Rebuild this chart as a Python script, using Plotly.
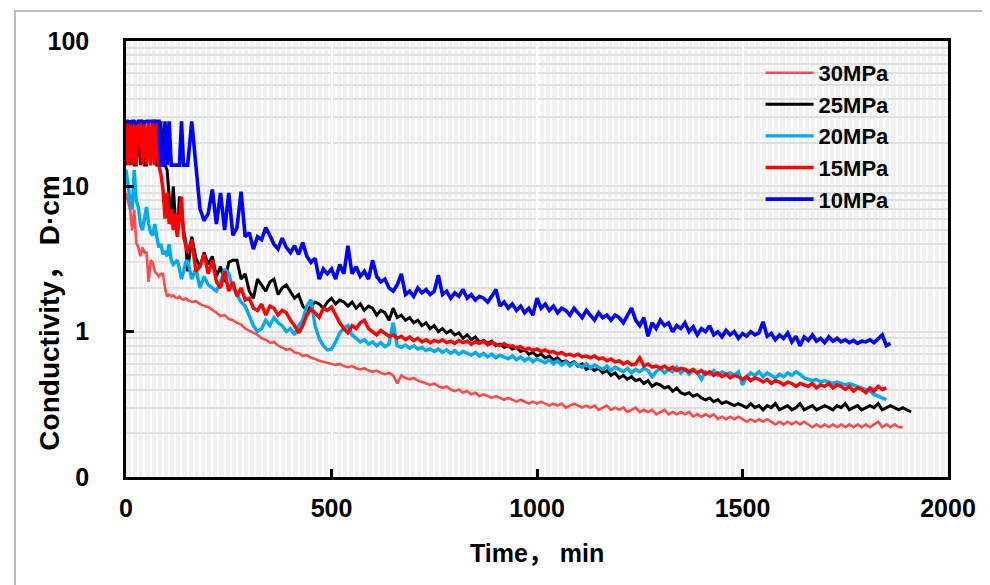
import plotly.graph_objects as go

# ---------------- data ----------------
SERIES_NAMES = ["30MPa", "25MPa", "20MPa", "15MPa", "10MPa"]
SERIES_COLORS = ["#FF4B4B", "#000000", "#00AAF0", "#FF0000", "#0000FF"]
SERIES_WIDTHS = [2.6, 3.0, 3.4, 3.4, 3.6]

# sampling: every 5 min from 0 to 145, then every 10 min from 150 on
EARLY_STEP = 5
EARLY_COUNT = 30
LATE_START = 150
LATE_STEP = 10

cond_30 = [
    9, 8, 6.9, 5.0, 6.9, 4.1, 3.8, 3.3, 3.8, 3.5,
    3.5, 2.2, 3.1, 3.0, 2.6, 2.5, 2.4, 2.5, 2.5, 2.0,
    1.74, 1.8, 1.75, 1.78, 1.72, 1.7, 1.74, 1.68, 1.66, 1.7,
    1.65, 1.6, 1.62, 1.55, 1.5, 1.48, 1.42, 1.35, 1.28, 1.3,
    1.22, 1.2, 1.15, 1.12, 1.05, 1.02, 0.98, 0.95, 0.9, 0.88,
    0.84, 0.85, 0.8, 0.78, 0.75, 0.76, 0.72, 0.71, 0.68, 0.69,
    0.66, 0.65, 0.63, 0.62, 0.61, 0.6, 0.59, 0.6, 0.58, 0.57,
    0.58, 0.56, 0.55, 0.56, 0.54, 0.53, 0.54, 0.52, 0.51, 0.52,
    0.5, 0.44, 0.5, 0.48, 0.47, 0.48, 0.46, 0.45, 0.44, 0.43,
    0.44, 0.42, 0.41, 0.42, 0.4, 0.39, 0.4, 0.38, 0.39, 0.37,
    0.38, 0.36, 0.37, 0.36, 0.35, 0.36, 0.35, 0.34, 0.35, 0.34,
    0.33, 0.34, 0.33, 0.32, 0.33, 0.32, 0.33, 0.32, 0.31, 0.32,
    0.31, 0.32, 0.3, 0.31, 0.32, 0.31, 0.3, 0.31, 0.3, 0.31,
    0.29, 0.3, 0.31, 0.29, 0.3, 0.29, 0.3, 0.28, 0.29, 0.3,
    0.28, 0.29, 0.28, 0.29, 0.27, 0.28, 0.29, 0.27, 0.28, 0.27,
    0.28, 0.27, 0.28, 0.26, 0.27, 0.26, 0.27, 0.26, 0.27, 0.25,
    0.26, 0.25, 0.26, 0.25, 0.26, 0.25, 0.24, 0.25, 0.24, 0.25,
    0.24, 0.25, 0.24, 0.23, 0.24, 0.23, 0.24, 0.23, 0.24, 0.23,
    0.24, 0.23, 0.22, 0.23, 0.22, 0.23, 0.22, 0.23, 0.22, 0.23,
    0.22, 0.23, 0.22, 0.23, 0.22, 0.23, 0.22, 0.23, 0.24, 0.22,
    0.23, 0.22, 0.23, 0.22, 0.22,
]

cond_25 = [
    14, 28, 14, 28, 14, 14, 28, 14, 28, 14,
    14, 28, 14, 28, 28, 14, 14, 28, 14, 14,
    13, 8, 5.5, 10, 6, 4.5, 8.5, 7, 5, 4.2,
    2.6, 4.5, 3.2, 2.8, 3.5, 2.9, 3.3, 2.4, 2.8, 2.2,
    3.0, 3.1, 3.1, 2.3, 2.5, 1.9, 1.7, 2.3, 2.1, 1.9,
    2.2, 2.3, 1.8, 2.0, 2.1, 1.9, 1.7, 1.8, 1.5, 1.4,
    1.5, 1.6, 1.55, 1.45, 1.6, 1.7, 1.55, 1.65, 1.6, 1.5,
    1.6, 1.45, 1.55, 1.4, 1.5, 1.45, 1.3, 1.4, 1.35, 1.2,
    1.45, 1.25, 1.3, 1.2, 1.25, 1.15, 1.2, 1.1, 1.15, 1.05,
    1.1, 1.0, 1.05, 0.98, 1.02, 0.95, 0.98, 0.9, 0.95, 0.88,
    0.92, 0.85, 0.87, 0.83, 0.86, 0.8, 0.82, 0.78, 0.8, 0.76,
    0.78, 0.73, 0.75, 0.7, 0.72, 0.68, 0.7, 0.66, 0.68, 0.64,
    0.66, 0.62, 0.63, 0.6, 0.62, 0.58, 0.6, 0.55, 0.57, 0.54,
    0.56, 0.52, 0.54, 0.5, 0.52, 0.48, 0.5, 0.47, 0.49, 0.46,
    0.47, 0.44, 0.46, 0.42, 0.44, 0.43, 0.41, 0.42, 0.39, 0.41,
    0.38, 0.37, 0.38, 0.36, 0.37, 0.35, 0.34, 0.35, 0.33, 0.34,
    0.32, 0.33, 0.32, 0.31, 0.32, 0.31, 0.3, 0.32, 0.3, 0.31,
    0.29, 0.31, 0.3, 0.32, 0.29, 0.3, 0.31, 0.29, 0.3, 0.32,
    0.29, 0.3, 0.31, 0.29, 0.3, 0.31, 0.3, 0.29, 0.31, 0.3,
    0.32, 0.29, 0.3, 0.31, 0.29, 0.3, 0.31, 0.3, 0.32, 0.29,
    0.3, 0.31, 0.3, 0.29, 0.3, 0.29, 0.28,
]

cond_20 = [
    13, 10, 8, 6.9, 13, 8, 7.2, 5.5, 5.0, 6,
    7.2, 5.5, 4.8, 4.6, 5.5, 4.5, 3.8, 4.0, 3.4, 3.6,
    3.3, 4.0, 3.1, 2.9, 3.0, 3.1, 2.7, 2.3, 2.6, 3.0,
    3.1, 2.3, 2.7, 2.0, 2.4, 2.1, 2.0, 1.9, 2.2, 2.7,
    2.5, 2.0, 1.8, 1.6, 1.5, 1.3, 1.1, 1.0, 1.05, 1.2,
    1.1, 1.25, 1.15, 1.1, 1.0, 1.05, 0.95, 1.1, 1.2, 1.5,
    1.66, 1.1, 0.9, 0.8, 0.75, 0.76, 0.85, 0.98, 1.05, 1.1,
    0.95, 0.9, 0.85, 0.88, 0.82, 0.85, 0.8, 0.84, 0.79, 0.82,
    1.15, 0.8, 0.78, 0.81, 0.77, 0.8, 0.76, 0.78, 0.74, 0.76,
    0.73, 0.76, 0.72, 0.75, 0.71, 0.74, 0.7, 0.73, 0.71, 0.69,
    0.72, 0.68, 0.71, 0.67, 0.7, 0.66, 0.69, 0.67, 0.65, 0.68,
    0.64, 0.67, 0.63, 0.66, 0.62, 0.65, 0.63, 0.61, 0.64, 0.6,
    0.63, 0.59, 0.62, 0.58, 0.61, 0.59, 0.57, 0.6, 0.56, 0.59,
    0.57, 0.55, 0.58, 0.54, 0.57, 0.55, 0.53, 0.56, 0.52, 0.55,
    0.53, 0.56, 0.54, 0.49, 0.53, 0.56, 0.52, 0.55, 0.53, 0.57,
    0.52, 0.55, 0.51, 0.54, 0.52, 0.47, 0.53, 0.51, 0.54, 0.5,
    0.53, 0.51, 0.52, 0.5, 0.53, 0.43, 0.49, 0.52, 0.5, 0.53,
    0.49, 0.52, 0.5, 0.48, 0.51, 0.49, 0.52, 0.5, 0.53, 0.51,
    0.48, 0.47, 0.46, 0.47, 0.45, 0.46, 0.45, 0.44, 0.45, 0.44,
    0.43, 0.44, 0.43, 0.42, 0.41, 0.4, 0.39, 0.37, 0.36, 0.35,
    0.34,
]

cond_15 = [
    28, 14, 28, 14, 28, 14, 28, 28, 14, 28,
    14, 28, 14, 28, 14, 28, 14, 12, 9.5, 6,
    9, 5.5, 7, 5, 6.5, 4.5, 6, 8.5, 4.5, 4.0,
    3.5, 4.3, 2.6, 2.8, 3.4, 2.5, 3.1, 2.2, 2.0, 2.6,
    1.9, 2.2, 1.75, 2.0, 1.65, 1.7, 1.45, 1.4, 1.55, 1.3,
    1.5, 1.45, 1.3, 1.4, 1.35, 1.2, 1.1, 0.98, 1.1, 1.3,
    1.42, 1.35, 1.25, 1.45, 1.4, 1.48, 1.3, 1.15, 1.05, 0.98,
    1.1, 1.05, 1.15, 1.2, 1.05, 1.0, 0.95, 1.02, 0.97, 0.93,
    0.95, 0.9, 0.93, 0.88, 0.92, 0.87, 0.9, 0.85, 0.88, 0.84,
    0.87, 0.85, 0.88, 0.84, 0.86, 0.83, 0.87, 0.84, 0.86, 0.82,
    0.85, 0.83, 0.86, 0.81, 0.84, 0.82, 0.8, 0.83, 0.79, 0.8,
    0.77, 0.79, 0.75, 0.77, 0.74, 0.76, 0.73, 0.75, 0.72, 0.73,
    0.7, 0.72, 0.69, 0.7, 0.68, 0.7, 0.67, 0.68, 0.66, 0.68,
    0.65, 0.66, 0.63, 0.65, 0.62, 0.63, 0.6, 0.62, 0.59, 0.6,
    0.66, 0.58, 0.6, 0.57, 0.58, 0.56, 0.58, 0.55, 0.57, 0.54,
    0.56, 0.55, 0.53, 0.55, 0.52, 0.54, 0.51, 0.53, 0.5, 0.52,
    0.49, 0.51, 0.48, 0.5, 0.49, 0.47, 0.49, 0.46, 0.48, 0.47,
    0.45, 0.47, 0.44, 0.46, 0.45, 0.43, 0.45, 0.44, 0.42, 0.44,
    0.43, 0.42, 0.44, 0.41, 0.43, 0.42, 0.44, 0.41, 0.43, 0.42,
    0.4, 0.42, 0.39, 0.41, 0.4, 0.38, 0.41, 0.39, 0.42, 0.4,
    0.41,
]

cond_10 = [
    28, 28, 27.5, 28, 28, 27, 28, 28, 28, 27.5,
    28, 28, 28, 28, 28, 28, 28, 14, 14, 28,
    14, 28, 14, 14, 14, 14, 14, 28, 14, 14,
    14, 28, 14, 7.0, 5.8, 6.5, 9.5, 5.5, 9.0, 5.0,
    9.0, 4.6, 5.2, 9.2, 4.5, 4.8, 3.7, 4.5, 4.3, 5.2,
    4.6, 4.0, 3.7, 4.4, 3.8, 3.5, 3.9, 3.4, 4.1, 3.3,
    3.0, 3.2, 2.3, 2.7, 2.5, 2.7, 2.3, 2.9, 2.5, 3.9,
    2.5, 2.8, 2.4, 2.6, 2.3, 3.1, 2.4, 2.2, 2.3, 2.0,
    1.9, 2.1, 2.5, 1.8, 1.9, 1.75, 2.0, 1.85, 1.95, 1.8,
    1.9, 2.45, 1.8, 1.9, 1.7, 1.85, 1.75, 1.95, 1.7, 1.8,
    1.65, 1.75, 1.7, 1.6, 1.75, 1.95, 1.5, 1.6, 1.45, 1.55,
    1.4, 1.5, 1.35, 1.45, 1.3, 1.7, 1.45, 1.55, 1.4, 1.5,
    1.35, 1.45, 1.4, 1.3, 1.45, 1.35, 1.25, 1.4, 1.3, 1.2,
    1.35, 1.25, 1.3, 1.2, 1.3, 1.25, 1.15, 1.3, 1.45, 1.2,
    1.1, 1.25, 0.93, 1.15, 1.05, 1.2, 1.1, 1.15, 1.0, 1.1,
    1.05, 1.15, 1.0, 1.08, 0.95, 1.05, 1.0, 1.1, 0.95, 1.0,
    0.92, 1.02, 0.95, 1.0, 0.9, 0.97, 0.93, 1.0, 0.95, 0.98,
    1.17, 0.93, 0.97, 0.88, 0.95, 0.9, 0.98, 0.85, 0.93, 0.8,
    0.92, 0.87, 0.95, 0.86, 0.9, 0.84, 0.92, 0.86, 0.9, 0.85,
    0.88, 0.84, 0.87, 0.83, 0.86, 0.85, 0.88, 0.84, 0.9, 0.95,
    0.8, 0.83,
]

SERIES_VALUES = [cond_30, cond_25, cond_20, cond_15, cond_10]

X_TICKS = [0, 500, 1000, 1500, 2000]
Y_TICKVALS = [0.1, 1, 10, 100]
Y_TICKTEXT = ["0", "1", "10", "100"]

X_TITLE = "Time， min"
Y_TITLE = "Conductivity， D·cm"


def times_for(values):
    n = len(values)
    early = [i * EARLY_STEP for i in range(min(n, EARLY_COUNT))]
    late = [LATE_START + i * LATE_STEP for i in range(max(0, n - EARLY_COUNT))]
    return early + late


FONT = "Liberation Sans, Arial, Noto Sans CJK SC, sans-serif"

# page has an 8px body margin; plot area must land at page x 126..948, y 41..477
PL, PR, PT, PB = 118, 50, 33, 116
PW = 990 - PL - PR   # 822
PH = 585 - PT - PB   # 436

fig = go.Figure()
for name, col, w, vals in zip(SERIES_NAMES, SERIES_COLORS, SERIES_WIDTHS, SERIES_VALUES):
    fig.add_trace(go.Scatter(
        x=times_for(vals), y=vals, mode="lines", name=name,
        line=dict(color=col, width=w, shape="linear"),
    ))

fig.update_layout(
    width=990, height=585,
    margin=dict(l=PL, r=PR, t=PT, b=PB, autoexpand=False),
    paper_bgcolor="white",
    plot_bgcolor="#f2f2f2",
    font=dict(family=FONT, size=22, color="black", weight="bold"),
    showlegend=True,
    legend=dict(
        x=0.772, y=0.975, xanchor="left", yanchor="top",
        bgcolor="rgba(0,0,0,0)", borderwidth=0,
        font=dict(family=FONT, size=22, color="black", weight="bold"),
        itemwidth=48, tracegroupgap=0,
    ),
)

fig.update_xaxes(
    range=[0, 2000], tickvals=X_TICKS, automargin=False,
    ticks="inside", ticklen=8, tickwidth=2.5, tickcolor="black",
    showline=True, linecolor="black", linewidth=2.5, mirror=True,
    showgrid=True, gridcolor="#ffffff", gridwidth=1.5,
    minor=dict(dtick=15, showgrid=True, gridcolor="#ffffff", gridwidth=1.5, ticks=""),
    tickfont=dict(family=FONT, size=25, color="black", weight="bold"),
    ticklabelstandoff=7,
    zeroline=False,
)
fig.update_yaxes(
    type="log", range=[-1, 2], automargin=False,
    tickvals=Y_TICKVALS, ticktext=Y_TICKTEXT,
    ticks="inside", ticklen=8, tickwidth=2.5, tickcolor="black",
    showline=True, linecolor="black", linewidth=2.5, mirror=True,
    showgrid=True, gridcolor="#e0e0e0", gridwidth=2,
    minor=dict(dtick="D1", showgrid=True, gridcolor="#e0e0e0", gridwidth=2, ticks=""),
    tickfont=dict(family=FONT, size=25, color="black", weight="bold"),
    ticklabelstandoff=29,
    zeroline=False,
)

# axis titles
fig.add_annotation(
    text=X_TITLE, xref="paper", yref="paper", x=0.5, y=-0.174,
    xanchor="center", yanchor="middle", showarrow=False,
    font=dict(family=FONT, size=25, color="black", weight="bold"),
)
fig.add_annotation(
    text=Y_TITLE, xref="paper", yref="paper", x=-0.0935, y=0.375,
    xanchor="center", yanchor="middle", textangle=-90, showarrow=False,
    font=dict(family=FONT, size=28, color="black", weight="bold"),
)

# outer chart-area border (page x 15..984, y 11..bottom)
fig.add_shape(
    type="rect", xref="paper", yref="paper",
    x0=(15 - 8 - PL) / PW, x1=(984 - 8 - PL) / PW,
    y0=-(600 - PT - PH) / PH, y1=(PT + PH - (11 - 8)) / PH,
    line=dict(color="#A6A6A6", width=1.5), fillcolor="rgba(0,0,0,0)", layer="below",
)

fig.write_html("out.html")
